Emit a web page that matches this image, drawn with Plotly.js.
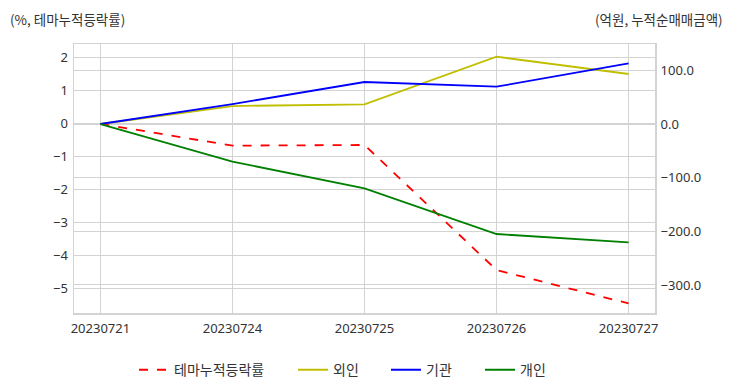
<!DOCTYPE html>
<html>
<head>
<meta charset="utf-8">
<script src="https://cdn.plot.ly/plotly-3.0.1.min.js"></script>
<style>html,body{margin:0;padding:0;background:#fff;}#chart{width:732px;height:392px;}</style>
</head>
<body>
<div id="chart"></div>
<script>
const dates = ["20230721", "20230724", "20230725", "20230726", "20230727"];
const themeRate = [0, -0.66, -0.64, -4.43, -5.44];
const foreign = [0, 33.5, 36.7, 125.4, 93.2];
const institution = [0, 37, 78.3, 69.5, 113];
const individual = [0, -70.2, -119.8, -205, -220.4];

const names = ["테마누적등락률", "외인", "기관", "개인"];
const font = "'Noto Sans CJK KR', 'Noto Sans', sans-serif";

const traces = [
  {x: dates, y: themeRate, name: names[0], mode: "lines", yaxis: "y", legend: "legend",
   line: {color: "#ff0000", width: 1.8, dash: "dash"}},
  {x: dates, y: foreign, name: names[1], mode: "lines", yaxis: "y2", legend: "legend2",
   line: {color: "#bfbf00", width: 1.8}},
  {x: dates, y: institution, name: names[2], mode: "lines", yaxis: "y2", legend: "legend3",
   line: {color: "#0000ff", width: 1.8}},
  {x: dates, y: individual, name: names[3], mode: "lines", yaxis: "y2", legend: "legend4",
   line: {color: "#008000", width: 1.8}}
];

const grid = "#d3d3d3";
const tf = {size: 13, color: "#333", family: "'Noto Sans', 'Noto Sans CJK KR', sans-serif"};
function leg(px) {
  return {orientation: "h", x: (px - 74) / 581, xanchor: "left", y: -0.153, yanchor: "top",
          font: {size: 14, color: "#333"}, itemwidth: 30, bgcolor: "rgba(0,0,0,0)"};
}
const layout = {
  width: 732, height: 392,
  margin: {l: 74, r: 77, t: 44, b: 79, autoexpand: false},
  paper_bgcolor: "#fff", plot_bgcolor: "#fff",
  font: {family: font, size: 13, color: "#333"},
  showlegend: true,
  legend: leg(134), legend2: leg(293), legend3: leg(386), legend4: leg(480),
  xaxis: {type: "category", range: [-0.2, 4.2], showgrid: true, gridcolor: grid, gridwidth: 1,
          showline: true, linecolor: grid, linewidth: 1.5, mirror: true, ticks: "outside",
          ticklen: 3, tickcolor: "rgba(0,0,0,0)", tickfont: tf, zeroline: false},
  yaxis: {range: [-5.73, 2.42], dtick: 1, tick0: 0, showgrid: true, gridcolor: grid, gridwidth: 1,
          showline: true, linecolor: grid, linewidth: 1.5, mirror: true, ticks: "outside",
          ticklen: 2, tickcolor: "rgba(0,0,0,0)", zeroline: false, tickfont: tf},
  yaxis2: {overlaying: "y", side: "right", range: [-352.2, 149.1], dtick: 100, tick0: 0,
           tickformat: ".1f", showgrid: true, gridcolor: grid, gridwidth: 1, zeroline: false,
           ticks: "outside", ticklen: 2, tickcolor: "rgba(0,0,0,0)", tickfont: tf},
  annotations: [
    {text: "(%, 테마누적등락률)", xref: "paper", yref: "paper", x: -0.113, y: 1.05,
     xanchor: "left", yanchor: "bottom", showarrow: false, font: {size: 13.5, color: "#333"}},
    {text: "(억원, 누적순매매금액)", xref: "paper", yref: "paper", x: 1.12, y: 1.05,
     xanchor: "right", yanchor: "bottom", showarrow: false, font: {size: 13.5, color: "#333"}}
  ]
};

Plotly.newPlot("chart", traces, layout, {displayModeBar: false, staticPlot: true});
</script>
</body>
</html>
